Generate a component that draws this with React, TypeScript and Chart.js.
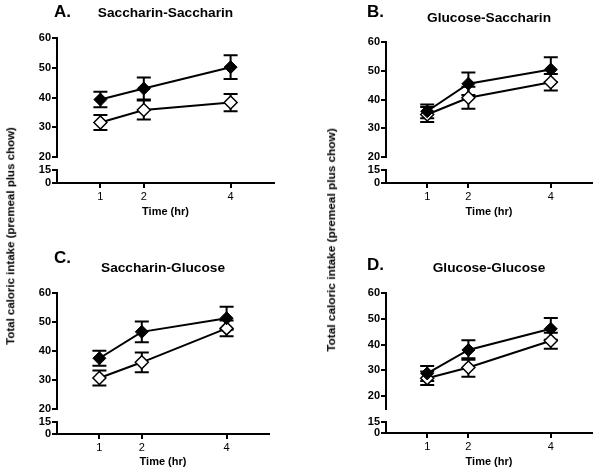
import React, { useEffect, useRef } from "react";
import { Chart, registerables } from "chart.js";

Chart.register(...registerables);

// ---------- data ----------
const timeHr = [1, 2, 4];
const xTickValues = [1, 2, 4];
const upperTickValues = [20, 30, 40, 50, 60];
const lowerTickValues = [0, 15];

const panelLetters = ["A.", "B.", "C.", "D."];
const panelTitles = ["Saccharin-Saccharin", "Glucose-Saccharin", "Saccharin-Glucose", "Glucose-Glucose"];
const yAxisLabel = "Total caloric intake (premeal plus chow)";
const xAxisLabel = "Time (hr)";

// Panel A: Saccharin-Saccharin
const saccSaccFilled = [39.3, 43.0, 50.2];
const saccSaccFilledSem = [2.6, 3.7, 4.0];
const saccSaccOpen = [31.6, 35.8, 38.3];
const saccSaccOpenSem = [2.5, 3.2, 2.9];

// Panel B: Glucose-Saccharin
const glucSaccFilled = [35.9, 45.5, 50.4];
const glucSaccFilledSem = [2.4, 3.9, 4.3];
const glucSaccOpen = [34.8, 40.6, 46.0];
const glucSaccOpenSem = [2.6, 3.8, 2.9];

// Panel C: Saccharin-Glucose
const saccGlucFilled = [37.5, 46.6, 51.3];
const saccGlucFilledSem = [2.6, 3.6, 4.0];
const saccGlucOpen = [30.7, 36.1, 47.8];
const saccGlucOpenSem = [2.6, 3.4, 2.7];

// Panel D: Glucose-Glucose
const glucGlucFilled = [28.8, 37.9, 46.1];
const glucGlucFilledSem = [2.9, 3.8, 4.2];
const glucGlucOpen = [26.9, 31.1, 41.5];
const glucGlucOpenSem = [2.6, 3.6, 3.1];

const panelSeries = [
  { filled: saccSaccFilled, filledSem: saccSaccFilledSem, open: saccSaccOpen, openSem: saccSaccOpenSem },
  { filled: glucSaccFilled, filledSem: glucSaccFilledSem, open: glucSaccOpen, openSem: glucSaccOpenSem },
  { filled: saccGlucFilled, filledSem: saccGlucFilledSem, open: saccGlucOpen, openSem: saccGlucOpenSem },
  { filled: glucGlucFilled, filledSem: glucGlucFilledSem, open: glucGlucOpen, openSem: glucGlucOpenSem },
];

// ---------- layout (page coordinates) ----------
const FONT = "'Liberation Sans', Arial, sans-serif";
const Y_AXIS_W = 40;
const X_AXIS_H = 36;

const panelLayouts = [
  { left: 0, top: 0, width: 300, height: 236, area: { l: 57, t: 38, r: 274, b: 183 }, upperMin: 20, wUpper: 119, wGap: 13, wLower: 13, letterX: 54, letterY: 12, titleY: 13.5, titlePad: 0 },
  { left: 300, top: 0, width: 300, height: 236, area: { l: 386, t: 42, r: 599, b: 183 }, upperMin: 20, wUpper: 115, wGap: 13, wLower: 13, letterX: 367, letterY: 12, titleY: 18, titlePad: 0 },
  { left: 0, top: 236, width: 300, height: 237, area: { l: 57, t: 293, r: 269, b: 434 }, upperMin: 20, wUpper: 116, wGap: 13, wLower: 12, letterX: 54, letterY: 258.5, titleY: 268, titlePad: 1 },
  { left: 300, top: 236, width: 300, height: 237, area: { l: 386, t: 293, r: 599, b: 433 }, upperMin: 15, wUpper: 116, wGap: 13, wLower: 11, letterX: 367, letterY: 265, titleY: 268.5, titlePad: 0 },
];

const errorBarPlugin = {
  id: "errorBars",
  beforeDatasetsDraw(chart: any) {
    const ctx = chart.ctx;
    const xs = chart.scales.x;
    ctx.save();
    ctx.strokeStyle = "#000";
    ctx.lineWidth = 2;
    chart.data.datasets.forEach((ds: any, i: number) => {
      const meta = chart.getDatasetMeta(i);
      const ys = chart.scales[meta.yAxisID];
      ds.data.forEach((p: any, j: number) => {
        const e = ds.errors[j];
        const px = xs.getPixelForValue(p.x);
        const top = ys.getPixelForValue(p.y + e);
        const bot = ys.getPixelForValue(p.y - e);
        const cap = 7;
        ctx.beginPath();
        ctx.moveTo(px, top);
        ctx.lineTo(px, bot);
        ctx.moveTo(px - cap, top);
        ctx.lineTo(px + cap, top);
        ctx.moveTo(px - cap, bot);
        ctx.lineTo(px + cap, bot);
        ctx.stroke();
      });
    });
    ctx.restore();
  },
};

const panelTextPlugin = {
  id: "panelText",
  afterDraw(chart: any, _args: any, opts: any) {
    const ctx = chart.ctx;
    const ca = chart.chartArea;
    ctx.save();
    ctx.fillStyle = "#000";
    ctx.textBaseline = "middle";
    ctx.font = `bold 17px ${FONT}`;
    ctx.textAlign = "left";
    ctx.fillText(opts.letter, opts.letterX, opts.letterY);
    ctx.font = `bold 13.7px ${FONT}`;
    ctx.textAlign = "center";
    ctx.fillText(opts.title, (ca.left + ca.right) / 2, opts.titleY);
    ctx.restore();
  },
};

function Panel({ index }: { index: number }) {
  const ref = useRef<HTMLCanvasElement | null>(null);
  const L = panelLayouts[index];
  const S = panelSeries[index];

  useEffect(() => {
    if (!ref.current) return;
    const axisGrid = { drawOnChartArea: false, drawTicks: true, tickLength: 5, color: "#000", lineWidth: 2 };
    const axisBorder = { display: true, color: "#000", width: 2 };
    const yTickCfg = { color: "#000", padding: 1, autoSkip: false, font: { family: FONT, size: 11, weight: "bold" } };

    const chart = new Chart(ref.current, {
      type: "line",
      data: {
        datasets: [
          {
            label: "filled",
            data: timeHr.map((t, i) => ({ x: t, y: S.filled[i] })),
            errors: S.filledSem,
            yAxisID: "yUpper",
            borderColor: "#000",
            borderWidth: 2,
            pointStyle: "rectRot",
            pointRadius: 6.5,
            pointBackgroundColor: "#000",
            pointBorderColor: "#000",
            pointBorderWidth: 1,
            fill: false,
            tension: 0,
          } as any,
          {
            label: "open",
            data: timeHr.map((t, i) => ({ x: t, y: S.open[i] })),
            errors: S.openSem,
            yAxisID: "yUpper",
            borderColor: "#000",
            borderWidth: 2,
            pointStyle: "rectRot",
            pointRadius: 6.5,
            pointBackgroundColor: "#fff",
            pointBorderColor: "#000",
            pointBorderWidth: 1.5,
            fill: false,
            tension: 0,
          } as any,
        ],
      },
      options: {
        animation: false,
        responsive: false,
        events: [],
        clip: false as any,
        layout: {
          padding: {
            left: L.area.l - L.left - Y_AXIS_W,
            right: L.left + L.width - L.area.r,
            top: L.area.t - L.top,
            bottom: L.top + L.height - L.area.b - X_AXIS_H,
          },
        },
        plugins: {
          legend: { display: false },
          tooltip: { enabled: false },
          title: { display: false },
          panelText: {
            letter: panelLetters[index],
            title: panelTitles[index],
            letterX: L.letterX - L.left,
            letterY: L.letterY - L.top,
            titleY: L.titleY - L.top,
          },
        } as any,
        scales: {
          x: {
            type: "linear",
            position: "bottom",
            min: 0,
            max: 5,
            afterBuildTicks: (s: any) => {
              s.ticks = xTickValues.map((v) => ({ value: v }));
            },
            afterFit: (s: any) => {
              s.height = X_AXIS_H;
            },
            grid: axisGrid,
            border: axisBorder,
            ticks: { color: "#000", padding: 2, maxRotation: 0, autoSkip: false, font: { family: FONT, size: 11 } },
            title: {
              display: true,
              text: xAxisLabel,
              color: "#000",
              font: { family: FONT, size: 11, weight: "bold" },
              padding: { top: 0, bottom: L.titlePad },
            },
          },
          yUpper: {
            type: "linear",
            position: "left",
            stack: "ybreak",
            stackWeight: L.wUpper,
            weight: 3,
            min: L.upperMin,
            max: 60,
            afterBuildTicks: (s: any) => {
              s.ticks = upperTickValues.map((v) => ({ value: v }));
            },
            afterFit: (s: any) => {
              s.width = Y_AXIS_W;
            },
            grid: axisGrid,
            border: axisBorder,
            ticks: yTickCfg,
          },
          yGap: {
            type: "linear",
            position: "left",
            stack: "ybreak",
            stackWeight: L.wGap,
            weight: 2,
            display: false,
            min: 0,
            max: 1,
          },
          yLower: {
            type: "linear",
            position: "left",
            stack: "ybreak",
            stackWeight: L.wLower,
            weight: 1,
            min: 0,
            max: 15,
            afterBuildTicks: (s: any) => {
              s.ticks = lowerTickValues.map((v) => ({ value: v }));
            },
            afterFit: (s: any) => {
              s.width = Y_AXIS_W;
            },
            grid: axisGrid,
            border: axisBorder,
            ticks: yTickCfg,
          },
        } as any,
      },
      plugins: [errorBarPlugin, panelTextPlugin],
    } as any);
    return () => chart.destroy();
  }, [index]);

  return (
    <canvas
      ref={ref}
      width={L.width}
      height={L.height}
      style={{ position: "absolute", left: L.left, top: L.top, width: L.width, height: L.height }}
    />
  );
}

function YLabel({ cx, cy, size }: { cx: number; cy: number; size: number }) {
  return (
    <div
      style={{
        position: "absolute",
        left: cx,
        top: cy,
        transform: "translate(-50%, -50%) rotate(-90deg)",
        whiteSpace: "nowrap",
        fontFamily: FONT,
        fontWeight: "bold",
        fontSize: size,
        lineHeight: 1,
        color: "#000",
      }}
    >
      {yAxisLabel}
    </div>
  );
}

export default function App() {
  return (
    <div style={{ position: "absolute", left: 0, top: 0, width: 600, height: 473, background: "#fff", overflow: "hidden" }}>
      {panelLayouts.map((_, i) => (
        <Panel key={i} index={i} />
      ))}
      <YLabel cx={11} cy={236} size={11.5} />
      <YLabel cx={332} cy={239.5} size={11.8} />
    </div>
  );
}
